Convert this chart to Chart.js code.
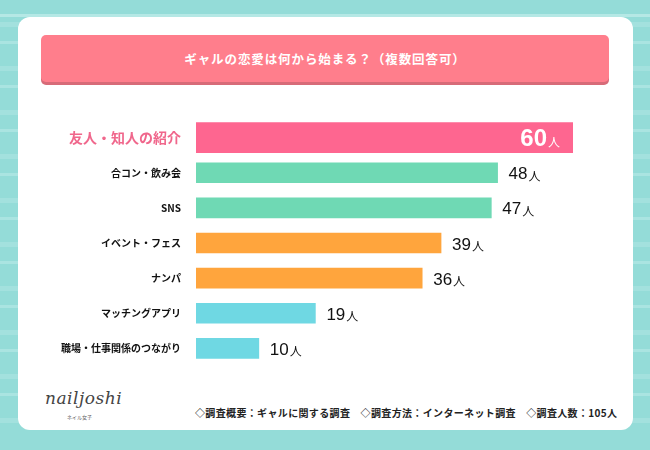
<!DOCTYPE html>
<html>
<head>
<meta charset="utf-8">
<script src="https://cdn.jsdelivr.net/npm/chart.js@4/dist/chart.umd.min.js"></script>
<style>
  html, body { margin: 0; padding: 0; }
  body {
    width: 650px; height: 450px; position: relative; overflow: hidden;
    background: repeating-linear-gradient(180deg, #94dcd8 0px, #94dcd8 22px, #a3e1de 22px, #a3e1de 27px, #94dcd8 27px, #94dcd8 41px, #aae4e1 41px, #aae4e1 44px);
    font-family: "Noto Sans CJK JP", "Noto Sans", sans-serif;
  }
  .topband { position: absolute; left: 0; top: 0; width: 650px; height: 14px; background: #94dcd8; }
  .topline { position: absolute; left: 0; top: 14px; width: 650px; height: 3px; background: #b5e8e5; }
  .bottomband { position: absolute; left: 0; top: 425px; width: 650px; height: 25px; background: #94dcd8; }
  .card {
    position: absolute; left: 18px; top: 17px; width: 615px; height: 413px;
    background: #fff; border-radius: 12px;
  }
  .banner {
    position: absolute; left: 41px; top: 35px; width: 568px; height: 47px;
    background: #ff7e8c; border-radius: 5px; box-shadow: 0 3px 0 #d76b78;
    color: #fff; font-weight: 700; font-size: 12.5px; letter-spacing: 0.9px;
    text-align: center; line-height: 47px;
  }
  .logo {
    position: absolute; left: 45px; top: 388px; font-family: "DejaVu Serif", serif;
    font-style: italic; font-size: 17px; color: #444; letter-spacing: 0.5px;
  }
  .logosub { position: absolute; left: 67px; top: 413px; font-size: 5px; color: #666; }
  .footer {
    position: absolute; left: 195px; top: 405px; font-size: 10px; font-weight: 700;
    color: #222; white-space: nowrap; letter-spacing: 0.35px;
  }
  canvas { position: absolute; left: 0; top: 0; }
</style>
</head>
<body>
<div class="topband"></div>
<div class="topline"></div>
<div class="bottomband"></div>
<div class="card"></div>
<div class="banner">ギャルの恋愛は何から始まる？（複数回答可）</div>
<div class="logo">nailjoshi</div>
<div class="logosub">ネイル女子</div>
<div class="footer">◇調査概要：ギャルに関する調査　◇調査方法：インターネット調査　◇調査人数：105人</div>
<canvas id="chart" width="650" height="450"></canvas>
<script>
// Data
const categories = ["友人・知人の紹介", "合コン・飲み会", "SNS", "イベント・フェス", "ナンパ", "マッチングアプリ", "職場・仕事関係のつながり"];
const counts = [60, 48, 47, 39, 36, 19, 10];
const barColors = ["#fe6690", "#6fd9b4", "#6fd9b4", "#ffa53d", "#ffa53d", "#6fd8e3", "#6fd8e3"];
const unit = "人";

// top answer gets its own thicker bar
const topData = counts.map((v, i) => i === 0 ? v : null);
const restData = counts.map((v, i) => i === 0 ? null : v);

const valueLabels = {
  id: "valueLabels",
  afterDatasetsDraw(chart) {
    const ctx = chart.ctx;
    ctx.save();
    ctx.textBaseline = "alphabetic";
    chart.data.datasets.forEach((ds, di) => {
      chart.getDatasetMeta(di).data.forEach((bar, i) => {
        if (ds.data[i] == null) return;
        const num = String(ds.data[i]);
        if (i === 0) {
          ctx.fillStyle = "#fff";
          ctx.font = "12px 'Noto Sans CJK JP'";
          const uw = ctx.measureText(unit).width;
          ctx.font = "bold 24px 'Liberation Sans', Arial";
          const nw = ctx.measureText(num).width;
          const right = bar.x - 13;
          ctx.fillText(num, right - uw - nw - 1, bar.y + 8.5);
          ctx.font = "12px 'Noto Sans CJK JP'";
          ctx.fillText(unit, right - uw, bar.y + 9);
        } else {
          ctx.fillStyle = "#111";
          ctx.font = "17px 'Liberation Sans', Arial";
          const x = bar.x + 11;
          ctx.fillText(num, x, bar.y + 6.5);
          const nw = ctx.measureText(num).width;
          ctx.font = "12px 'Noto Sans CJK JP'";
          ctx.fillText(unit, x + nw + 1, bar.y + 8);
        }
      });
    });
    ctx.restore();
  }
};

new Chart(document.getElementById("chart"), {
  type: "bar",
  data: {
    labels: categories,
    datasets: [
      { data: topData, backgroundColor: barColors, barThickness: 30, grouped: false },
      { data: restData, backgroundColor: barColors, barThickness: 20, grouped: false }
    ]
  },
  options: {
    indexAxis: "y",
    responsive: false,
    animation: false,
    layout: { padding: { left: 0, right: 77, top: 120, bottom: 84 } },
    plugins: { legend: { display: false }, tooltip: { enabled: false } },
    scales: {
      x: { display: false, min: 0, max: 60 },
      y: {
        grid: { display: false },
        border: { display: false },
        afterFit(scale) { scale.width = 196; },
        ticks: {
          padding: 7,
          color: (c) => c.index === 0 ? "#f0678c" : "#111",
          font: (c) => c.index === 0
            ? { size: 14, weight: "bold", family: "'Noto Sans CJK JP'" }
            : { size: 10, weight: "bold", family: "'Noto Sans CJK JP'" }
        }
      }
    }
  },
  plugins: [valueLabels]
});
</script>
</body>
</html>
